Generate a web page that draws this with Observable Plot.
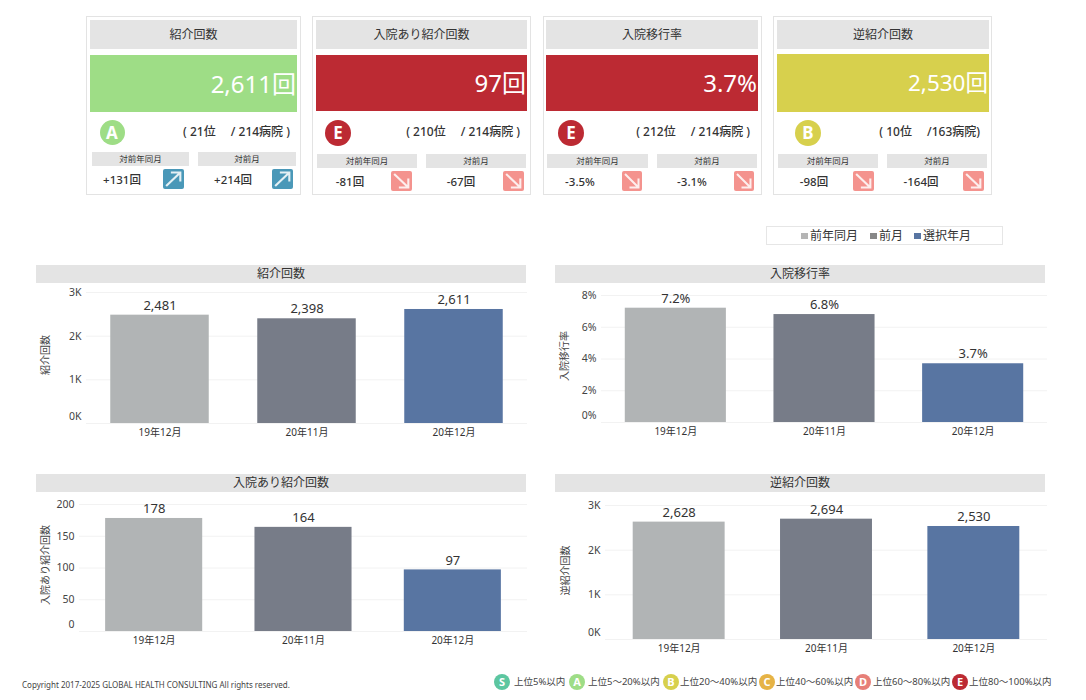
<!DOCTYPE html>
<html lang="ja">
<head>
<meta charset="utf-8">
<script src="https://cdn.jsdelivr.net/npm/d3@7"></script>
<script src="https://cdn.jsdelivr.net/npm/@observablehq/plot@0.6"></script>
<style>
  html,body{margin:0;padding:0;background:#fff;}
  #page{position:relative;width:1086px;height:700px;overflow:hidden;background:#fff;color:#333;
        font-family:"Noto Sans","Noto Sans CJK JP",sans-serif;}
  #page div,#page span{position:absolute;box-sizing:border-box;white-space:nowrap;}
  .hdr{background:#e4e4e4;text-align:center;}
  .sub{background:#e4e4e4;text-align:center;font-size:8.5px;line-height:14px;height:14px;}
  .badge{border-radius:50%;color:#fff;font-weight:700;text-align:center;}
  svg.ic{position:absolute;border-radius:2px;}
</style>
</head>
<body>
<div id="page"></div>
<script>
// ---- data ----
const periods = ["19年12月", "20年11月", "20年12月"];
const referralValues = [2481, 2398, 2611];
const transferRates = [7.2, 6.8, 3.7];
const admittedValues = [178, 164, 97];
const reverseValues = [2628, 2694, 2530];

const cardTitles = ["紹介回数", "入院あり紹介回数", "入院移行率", "逆紹介回数"];
const cardValues = ["2,611回", "97回", "3.7%", "2,530回"];
const cardGrades = ["A", "E", "E", "B"];
const cardRanks = ["( 21位 　/ 214病院 )", "( 210位 　/ 214病院 )", "( 212位 　/ 214病院 )", "( 10位 　/163病院)"];
const yearDiffs = ["+131回", "-81回", "-3.5%", "-98回"];
const monthDiffs = ["+214回", "-67回", "-3.1%", "-164回"];
const diffHeads = ["対前年同月", "対前月"];
const legendNames = ["前年同月", "前月", "選択年月"];
const gradeNames = ["S", "A", "B", "C", "D", "E"];
const gradeLabels = ["上位5%以内", "上位5～20%以内", "上位20～40%以内", "上位40～60%以内", "上位60～80%以内", "上位80～100%以内"];
const copyright = "Copyright 2017-2025 GLOBAL HEALTH CONSULTING All rights reserved.";

// ---- styles and layout ----
const gradeColors = {S:"#5cc6a0", A:"#9edd86", B:"#d7d04d", C:"#e6b345", D:"#e77f78", E:"#bc2a33"};
const barColors = ["#b1b4b5", "#777c88", "#5875a2"];
const legendColors = ["#b5b5b5", "#888888", "#5875a2"];
const page = document.getElementById("page");

function el(cls, css, text){
  const d = document.createElement("div");
  if (cls) d.className = cls;
  Object.assign(d.style, css);
  if (text != null) d.textContent = text;
  page.appendChild(d);
  return d;
}
const px = v => v + "px";
function box(x0, y0, x1, y1){ return {left:px(x0), top:px(y0), width:px(x1-x0), height:px(y1-y0)}; }

function arrow(x, y, w, h, up){
  const ns = "http://www.w3.org/2000/svg";
  const s = document.createElementNS(ns, "svg");
  s.setAttribute("class", "ic");
  s.setAttribute("viewBox", "0 0 20 20");
  s.setAttribute("preserveAspectRatio", "none");
  s.style.cssText = `left:${x}px;top:${y}px;width:${w}px;height:${h}px;background:${up ? "#4a98b8" : "#f4938e"}`;
  s.innerHTML = up
    ? '<path d="M3 17 L16 4 M7.5 3.5 H16.5 V12.5" fill="none" stroke="#e4f0f4" stroke-width="2"/>'
    : '<path d="M3 3 L16 16 M7.5 16.5 H16.5 V7.5" fill="none" stroke="#fdeeed" stroke-width="2"/>';
  page.appendChild(s);
}

const cardLayout = [
  {x0:86, x1:301, hd:[90,297], val:[90,297,55,112], bx:112, by:132, r:12.5, rankR:11, fs:24, s1:[92,189,152], s2:[198,296,152], d1:122, d2:233, dy:180, a1:163, a2:272, ay:169, aw:21},
  {x0:312, x1:531, hd:[316,527], val:[316,527,55,111], bx:338, by:133, r:13, rankR:11, fs:24, s1:[317,417,154], s2:[426,526,154], d1:350, d2:461, dy:182, a1:391, a2:503, ay:171, aw:21},
  {x0:543, x1:762, hd:[546,758], val:[546,758,55,111], bx:571, by:133, r:13, rankR:12, fs:24, s1:[547,648,154], s2:[657,757,154], d1:580, d2:692, dy:182, a1:622, a2:734, ay:171, aw:20},
  {x0:773, x1:992, hd:[777,989], val:[777,989,54,112], bx:808, by:133, r:13, rankR:12, fs:22.5, s1:[778,878,154], s2:[887,987,154], d1:814, d2:921, dy:182, a1:853, a2:963, ay:171, aw:21}
];

cardLayout.forEach((c, i) => {
  const grade = cardGrades[i], col = gradeColors[grade];
  el("", {...box(c.x0, 16, c.x1, 195), border:"1.5px solid #e3e3e3"});
  el("hdr", {...box(c.hd[0], 20, c.hd[1], 49), fontSize:"12px", lineHeight:"29px"}, cardTitles[i]);
  el("", {...box(c.val[0], c.val[2], c.val[1], c.val[3]), background:col, color:"#fff",
          fontSize:px(c.fs), lineHeight:(c.val[3]-c.val[2])+"px", textAlign:"right", paddingRight:"1px"}, cardValues[i]);
  el("badge", {...box(c.bx-c.r, c.by-c.r, c.bx+c.r, c.by+c.r), background:col, fontSize:"17px", lineHeight:(2*c.r)+"px"}, grade);
  el("", {right:px(1086-c.x1+c.rankR), top:"124px", fontSize:"12px", lineHeight:"16px", fontWeight:"500"}, cardRanks[i]);
  [c.s1, c.s2].forEach((s, k) => el("sub", {left:px(s[0]), top:px(s[2]), width:px(s[1]-s[0])}, diffHeads[k]));
  const up = yearDiffs[i].startsWith("+");
  el("", {left:px(c.d1), top:px(c.dy-8), fontSize:"11.5px", lineHeight:"16px", fontWeight:"500", transform:"translateX(-50%)"}, yearDiffs[i]);
  el("", {left:px(c.d2), top:px(c.dy-8), fontSize:"11.5px", lineHeight:"16px", fontWeight:"500", transform:"translateX(-50%)"}, monthDiffs[i]);
  arrow(c.a1, c.ay, c.aw, 20, up);
  arrow(c.a2, c.ay, c.aw, 20, up);
});

// period legend
el("", {...box(766, 226, 1003, 245), border:"1.5px solid #e6e6e6"});
[[801, 810], [870, 879], [914, 923]].forEach(([sq, tx], i) => {
  el("", {...box(sq, 232.5, sq+6.5, 239), background:legendColors[i]});
  el("", {left:px(tx), top:"227px", fontSize:"12px", lineHeight:"18px"}, legendNames[i]);
});

// ---- charts ----
function chart({title, values, left, right, headerTop, svgTop, y3, y0, yMax, ticks, tickFmt, valFmt, axisLabel, plotLeft, padInner, labelOffset, labelShift}){
  el("hdr", {...box(left, headerTop, left+490, headerTop+18), fontSize:"12px", lineHeight:"18px"}, title);
  const rows = periods.map((p, i) => ({period:p, value:values[i]}));
  const height = y0 + 17 - svgTop;
  const svg = Plot.plot({
    width: right - left,
    height,
    marginLeft: plotLeft - left,
    marginRight: 0,
    marginTop: y3 - svgTop,
    marginBottom: 17,
    style:{fontFamily:'"Noto Sans","Noto Sans CJK JP",sans-serif', background:"transparent", overflow:"visible"},
    x:{domain:periods, paddingInner:padInner, paddingOuter:padInner/2, round:false, label:null},
    y:{domain:[0, yMax], label:null},
    color:{domain:periods, range:barColors},
    marks:[
      Plot.gridY(ticks, {stroke:"#f2f2f2", strokeOpacity:1}),
      Plot.barY(rows, {x:"period", y:"value", fill:"period"}),
      Plot.text(rows, {x:"period", y:"value", text:d => valFmt(d.value), dy:-9.5, fontSize:13, fill:"#333"}),
      Plot.axisY(ticks.filter(t => t > 0), {tickFormat:tickFmt, tickSize:0, tickPadding:5, fontSize:10.5, fill:"#444",
                         label:axisLabel, labelAnchor:"center", labelArrow:"none", labelOffset}),
      Plot.axisY([0], {tickFormat:tickFmt, tickSize:0, tickPadding:5, fontSize:10.5, fill:"#444", label:null, dy:-6.5}),
      Plot.axisX({tickSize:0, tickPadding:5, fontSize:10, fill:"#333", label:null})
    ]
  });
  svg.style.position = "absolute";
  svg.style.left = px(left);
  svg.style.top = px(svgTop);
  page.appendChild(svg);
  const lab = svg.querySelector('[aria-label="y-axis label"] text');
  if (lab) { lab.setAttribute("font-size", "10"); lab.setAttribute("dx", String(labelShift)); }
}

const kFmt = v => (v/1000) + "K";
const comma = d3.format(",");
chart({title:"紹介回数", values:referralValues, left:36, right:527, headerTop:265, svgTop:284, y3:292, y0:423, yMax:3000,
       ticks:[0,1000,2000,3000], tickFmt:kFmt, valFmt:comma, axisLabel:cardTitles[0], plotLeft:86, padInner:0.33, labelOffset:45, labelShift:3});
chart({title:"入院移行率", values:transferRates, left:555, right:1047, headerTop:265, svgTop:284, y3:295, y0:422, yMax:8,
       ticks:[0,2,4,6,8], tickFmt:v => v + "%", valFmt:v => v.toFixed(1) + "%", axisLabel:cardTitles[2], plotLeft:601, padInner:0.32, labelOffset:41, labelShift:3});
chart({title:"入院あり紹介回数", values:admittedValues, left:36, right:527, headerTop:474, svgTop:493, y3:504, y0:631, yMax:200,
       ticks:[0,50,100,150,200], tickFmt:d => String(d), valFmt:String, axisLabel:cardTitles[1], plotLeft:79, padInner:0.35, labelOffset:38, labelShift:3});
chart({title:"逆紹介回数", values:reverseValues, left:555, right:1047, headerTop:474, svgTop:493, y3:505, y0:639, yMax:3000,
       ticks:[0,1000,2000,3000], tickFmt:kFmt, valFmt:comma, axisLabel:cardTitles[3], plotLeft:605, padInner:0.376, labelOffset:44, labelShift:2});

// ---- footer ----
el("", {left:"22px", top:"679px", fontSize:"8px", lineHeight:"12px", color:"#444"}, copyright);
const bx = [502, 577, 671, 767, 863, 960];
const tx = [514, 588, 680, 776, 873, 969];
gradeNames.forEach((g, i) => {
  el("badge", {...box(bx[i]-8, 674, bx[i]+8, 690), background:gradeColors[g], fontSize:"11px", lineHeight:"16px"}, g);
  el("", {left:px(tx[i]), top:"675px", fontSize:"9.5px", lineHeight:"14px", color:"#444"}, gradeLabels[i]);
});
</script>
</body>
</html>
